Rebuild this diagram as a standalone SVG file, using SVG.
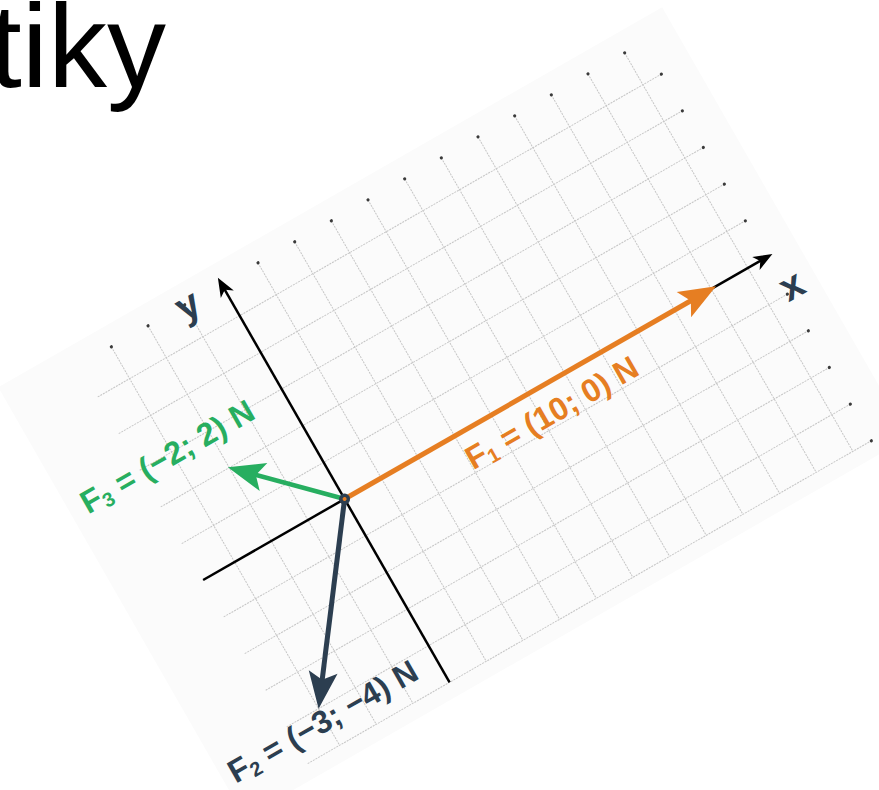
<svg xmlns="http://www.w3.org/2000/svg" width="879" height="790" viewBox="0 0 879 790">
<style>
.grid line{stroke:#c6c6c6;stroke-width:1;stroke-dasharray:2 1}
.dot{fill:#3a3a3a}
.axis{stroke:#000;stroke-width:2.5;fill:none}
.lbl{font-family:"Liberation Sans",Arial,sans-serif;font-weight:bold;font-size:32px}
.axl{font-family:"Liberation Sans",Arial,sans-serif;font-weight:bold;font-size:40px;fill:#2c3e50}
.sub{font-size:20px}
</style>
<defs>
<path id="headS" d="M0,0 L-19,-7.5 L-14,0 L-19,7.5 Z"/>
<path id="headL" d="M0,0 L-37,-14.5 L-29,0 L-37,14.5 Z"/>
</defs>
<rect width="879" height="790" fill="#fff"/>
<text x="-11" y="87" font-family="Liberation Sans, Arial, sans-serif" font-size="118" fill="#000">tiky</text>
<g transform="translate(344.6,499) rotate(-29.8)">
  <rect id="panel" x="-245" y="-269" width="765" height="496" fill="#fbfbfb"/>
  <g id="grid" class="grid">
    <line x1="-126.75" y1="-248" x2="-126.75" y2="211.25"/>
    <line x1="-84.5" y1="-248" x2="-84.5" y2="211.25"/>
    <line x1="-42.25" y1="-248" x2="-42.25" y2="211.25"/>
    <line x1="0" y1="-248" x2="0" y2="211.25"/>
    <line x1="42.25" y1="-248" x2="42.25" y2="211.25"/>
    <line x1="84.5" y1="-248" x2="84.5" y2="211.25"/>
    <line x1="126.75" y1="-248" x2="126.75" y2="211.25"/>
    <line x1="169" y1="-248" x2="169" y2="211.25"/>
    <line x1="211.25" y1="-248" x2="211.25" y2="211.25"/>
    <line x1="253.5" y1="-248" x2="253.5" y2="211.25"/>
    <line x1="295.75" y1="-248" x2="295.75" y2="211.25"/>
    <line x1="338" y1="-248" x2="338" y2="211.25"/>
    <line x1="380.25" y1="-248" x2="380.25" y2="211.25"/>
    <line x1="422.5" y1="-248" x2="422.5" y2="211.25"/>
    <line x1="464.75" y1="-248" x2="464.75" y2="211.25"/>
    <line x1="-163.5" y1="-211.25" x2="486" y2="-211.25"/>
    <line x1="-163.5" y1="-169" x2="486" y2="-169"/>
    <line x1="-163.5" y1="-126.75" x2="486" y2="-126.75"/>
    <line x1="-163.5" y1="-84.5" x2="486" y2="-84.5"/>
    <line x1="-163.5" y1="-42.25" x2="486" y2="-42.25"/>
    <line x1="-163.5" y1="0" x2="486" y2="0"/>
    <line x1="-163.5" y1="42.25" x2="486" y2="42.25"/>
    <line x1="-163.5" y1="84.5" x2="486" y2="84.5"/>
    <line x1="-163.5" y1="126.75" x2="486" y2="126.75"/>
    <line x1="-163.5" y1="169" x2="486" y2="169"/>
    <line x1="-163.5" y1="211.25" x2="486" y2="211.25"/>
  </g>
  <g id="grid-dots" class="dot">
    <circle cx="-126.75" cy="-248" r="1.6"/><circle cx="-84.5" cy="-248" r="1.6"/><circle cx="-42.25" cy="-248" r="1.6"/>
    <circle cx="42.25" cy="-248" r="1.6"/><circle cx="84.5" cy="-248" r="1.6"/><circle cx="126.75" cy="-248" r="1.6"/>
    <circle cx="169" cy="-248" r="1.6"/><circle cx="211.25" cy="-248" r="1.6"/><circle cx="253.5" cy="-248" r="1.6"/>
    <circle cx="295.75" cy="-248" r="1.6"/><circle cx="338" cy="-248" r="1.6"/><circle cx="380.25" cy="-248" r="1.6"/>
    <circle cx="422.5" cy="-248" r="1.6"/><circle cx="464.75" cy="-248" r="1.6"/>
    <circle cx="486" cy="-211.25" r="1.6"/><circle cx="486" cy="-169" r="1.6"/><circle cx="486" cy="-126.75" r="1.6"/>
    <circle cx="486" cy="-84.5" r="1.6"/><circle cx="486" cy="-42.25" r="1.6"/>
    <circle cx="486" cy="42.25" r="1.6"/><circle cx="486" cy="84.5" r="1.6"/><circle cx="486" cy="126.75" r="1.6"/>
    <circle cx="486" cy="169" r="1.6"/><circle cx="486" cy="211.25" r="1.6"/>
  </g>
  <g id="axes">
    <g id="x-axis">
      <line class="axis" x1="-163" y1="0" x2="480" y2="0"/>
      <use href="#headS" transform="translate(493,0)" fill="#000"/>
      <text class="axl" x="494" y="50" text-anchor="middle">x</text>
    </g>
    <g id="y-axis">
      <line class="axis" x1="0" y1="211.25" x2="0" y2="-243"/>
      <use href="#headS" transform="translate(0,-255) rotate(-90)" fill="#000"/>
      <text class="axl" x="-40" y="-233" text-anchor="middle">y</text>
    </g>
  </g>
  <g id="connectors">
    <g id="F2" transform="rotate(126.87)">
      <line x1="0" y1="0" x2="185" y2="0" stroke="#2c3e50" stroke-width="5"/>
      <use href="#headL" transform="translate(211.25,0)" fill="#2c3e50"/>
    </g>
    <g id="F3" transform="rotate(-135)">
      <line x1="0" y1="0" x2="95" y2="0" stroke="#27ae60" stroke-width="4.5"/>
      <use href="#headL" transform="translate(121,0)" fill="#27ae60"/>
    </g>
    <g id="F1">
      <line x1="0" y1="0" x2="402" y2="0" stroke="#e67e22" stroke-width="5"/>
      <use href="#headL" transform="translate(428,0)" fill="#e67e22"/>
    </g>
  </g>
  <g id="origin"><circle cx="0" cy="0" r="5.5" fill="#2c3e50"/><circle cx="0" cy="0" r="2" fill="#e67e22"/></g>
  <g id="labels">
    <text id="F1-label" class="lbl" x="126" y="39" fill="#e67e22">F<tspan class="sub" dy="4">1</tspan><tspan dy="-4"> = (10; 0) N</tspan></text>
    <text id="F2-label" class="lbl" x="-236" y="193" fill="#2c3e50">F<tspan class="sub" dy="4">2</tspan><tspan dy="-4"> = (−3; −4) N</tspan></text>
    <text id="F3-label" class="lbl" x="-230" y="-114" fill="#27ae60">F<tspan class="sub" dy="4">3</tspan><tspan dy="-4"> = (−2; 2) N</tspan></text>
  </g>
</g>
</svg>
